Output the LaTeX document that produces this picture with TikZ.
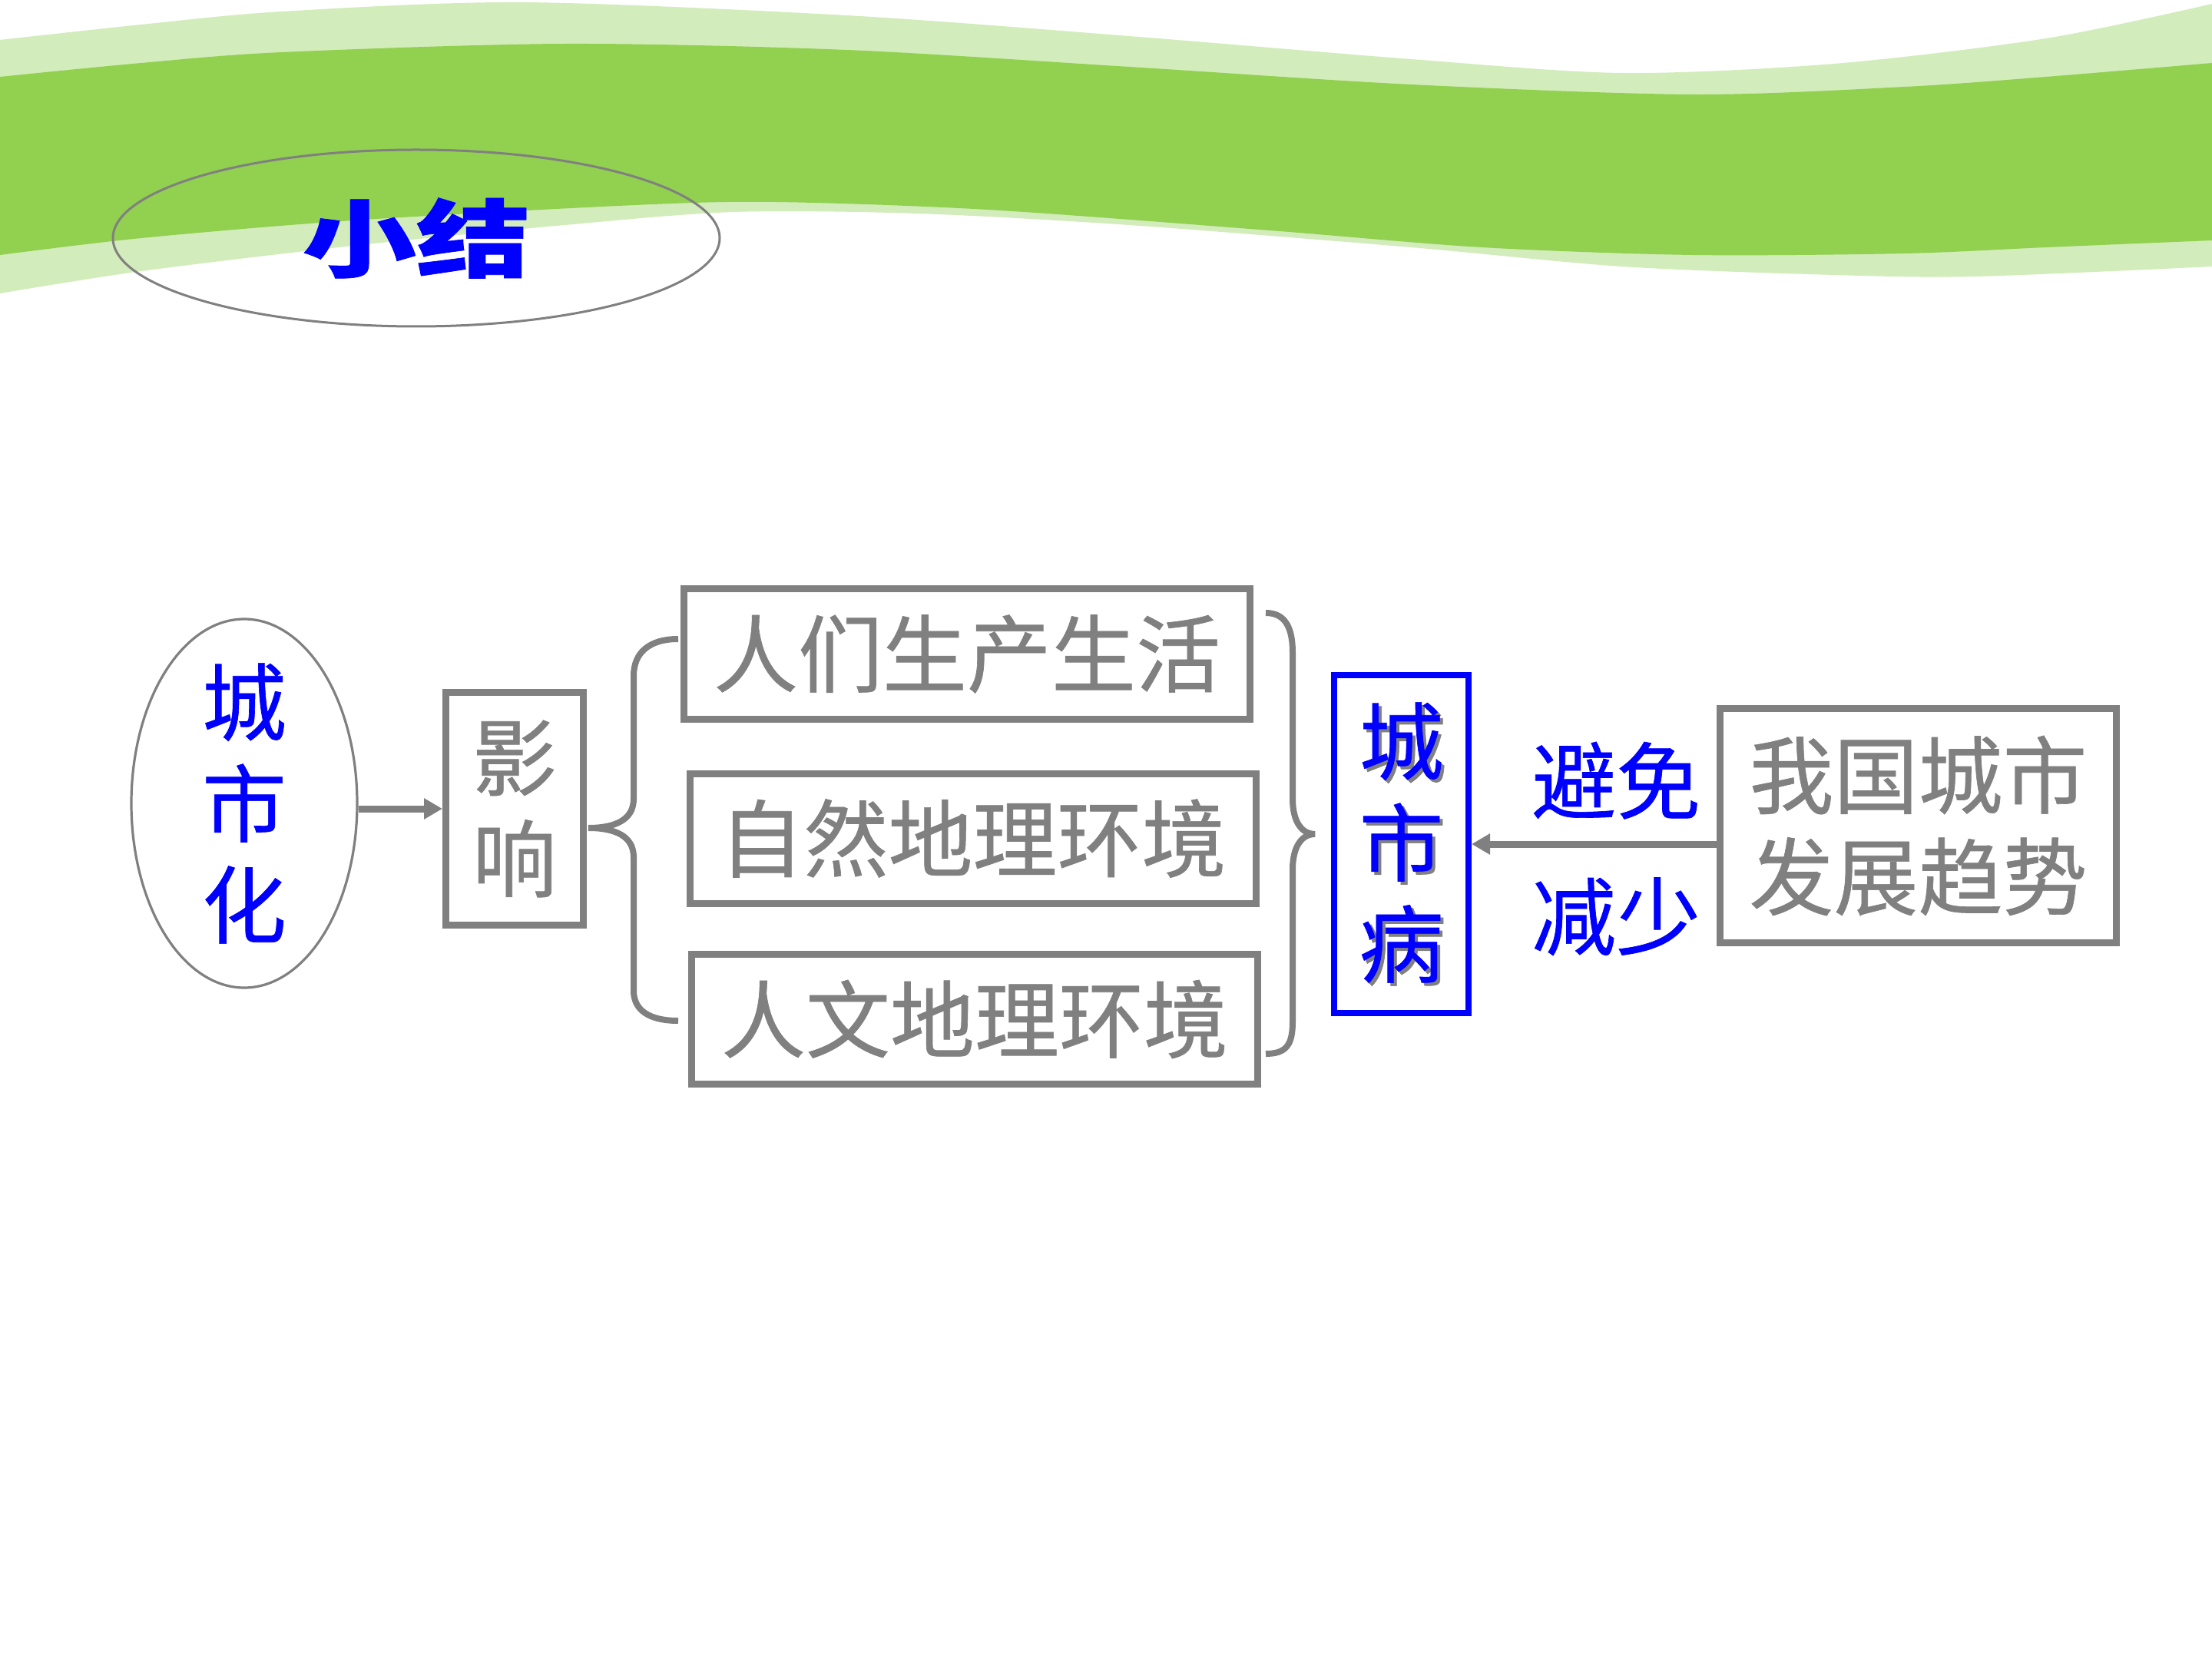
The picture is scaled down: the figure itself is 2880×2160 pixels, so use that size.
\documentclass[tikz,border=0pt]{standalone}
\usepackage{fontspec}
\usepackage{graphicx}
\newfontfamily\cjk[FakeBold=0.6]{Noto Sans CJK SC}
\usetikzlibrary{arrows.meta,shapes.geometric}
\definecolor{leafgreen}{RGB}{146,208,80}
\definecolor{palegreen}{RGB}{211,236,187}
\definecolor{boxgray}{RGB}{128,128,128}
\newcommand\graycast[1]{\makebox[0pt][l]{\hspace{1pt}\raisebox{-1pt}{\textcolor{boxgray}{#1}}}#1}

\begin{document}
\begin{tikzpicture}[
    x=0.25pt, y=-0.25pt,   % one unit is one pixel of the slide
    every node/.style={font=\cjk\fontsize{27.5}{33}\selectfont},
    graybox/.style={
        draw=boxgray,
        line width=2.25pt,
        text=boxgray,
        inner sep=0pt,
        align=center
    },
    bluebox/.style={draw=blue, line width=2pt, text=blue, inner sep=0pt, align=center},
    oval/.style={ellipse, draw=boxgray, line width=0.8pt, align=center},
    flow/.style={draw=boxgray, line width=2.25pt, -{Triangle[length=6pt,width=6.5pt]}},
    curly/.style={draw=boxgray, line width=2pt}
]
\useasboundingbox (0,0) rectangle (2880,2160);
\fill[white] (0,0) rectangle (2880,2160);

% green waves at the top
\fill[palegreen] plot[smooth] coordinates {(0,52) (184,32) (367,15) (680,3) (1102,20) (1470,47) (1837,77) (2112,95) (2388,83) (2664,50) (2880,5)}
    -- plot[smooth] coordinates {(2880,347) (2572,360) (2388,358) (2112,347) (1837,322) (1470,293) (1194,278) (955,276) (735,293) (459,320) (184,353) (0,382)} -- cycle;
\fill[leafgreen] plot[smooth] coordinates {(0,100) (184,82) (367,68) (735,57) (1102,65) (1470,87) (1837,110) (2204,123) (2480,113) (2664,100) (2880,82)}
    -- plot[smooth] coordinates {(2880,313) (2664,322) (2480,330) (2204,332) (1929,322) (1653,300) (1286,273) (1010,263) (827,267) (459,287) (184,310) (0,332)} -- cycle;

\node[oval, line width=0.75pt, minimum width=197.5pt, minimum height=57.5pt, text=blue,
      font=\cjk\bfseries\fontsize{27.5}{33}\selectfont] (xj) at (542,310) {\raisebox{-2pt}{\scalebox{1.35}[1]{小结}}};

\node[oval, minimum width=73.5pt, minimum height=120pt, inner ysep=-6pt, text=blue] (chs) at (318,1046) {城\\市\\化};
\node[graybox, minimum width=44.75pt, minimum height=75.75pt] (yx) at (670,1053) {影\\响};
\node[graybox, minimum width=184.25pt, minimum height=42.5pt] (rm) at (1259,851.5) {人们生产生活};
\node[graybox, minimum width=184.25pt, minimum height=42.25pt] (zr) at (1266.5,1091.5) {自然地理环境};
\node[graybox, minimum width=184.25pt, minimum height=42.25pt] (rw) at (1269,1327) {人文地理环境};
\node[bluebox, minimum width=43.75pt, minimum height=110pt] (csb) at (1824.5,1099) {\graycast{城}\\\graycast{市}\\\graycast{病}};
\node[graybox, minimum width=129pt, minimum height=76.25pt] (qs) at (2497.5,1075) {我国城市\\发展趋势};

\draw[flow] (chs.east |- yx.west) -- (yx.west);
\draw[flow] (qs.west |- csb.east) --
    node[pos=0.41, above=7pt, inner sep=0pt, text=blue] (bm) {避免}
    node[pos=0.41, below=9.75pt, inner sep=0pt, text=blue] (js) {减少} (csb.east);

% braces round the three boxes
\draw[curly] (883,832) .. controls (845,832) and (825,850) .. (825,880) -- (825,1040)
    .. controls (825,1068) and (800,1078) .. (766,1078) .. controls (800,1078) and (825,1088) .. (825,1116)
    -- (825,1290) .. controls (825,1315) and (845,1329) .. (883,1329);
\draw[curly] (1648,798) .. controls (1675,798) and (1683,820) .. (1683,850) -- (1683,1040)
    .. controls (1683,1070) and (1695,1086) .. (1712,1086) .. controls (1695,1086) and (1683,1102) .. (1683,1132)
    -- (1683,1330) .. controls (1683,1360) and (1675,1372) .. (1648,1372);
\end{tikzpicture}
\end{document}
